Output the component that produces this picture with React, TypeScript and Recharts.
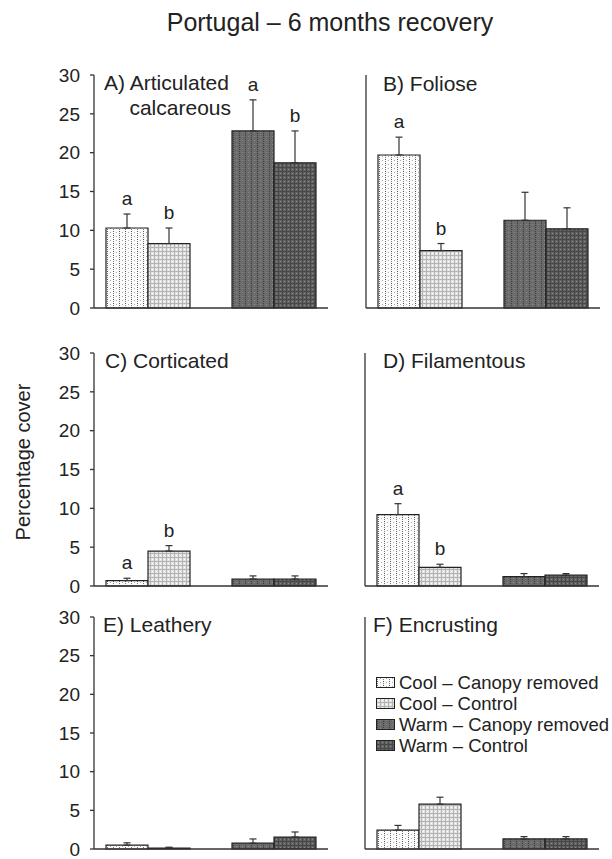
import React from "react";
import { Bar, BarChart, Cell, ErrorBar, LabelList, XAxis, YAxis } from "recharts";

// Means and standard errors, in the order
// [Cool-Canopy removed, Cool-Control, Warm-Canopy removed, Warm-Control]
const temps = ["Cool", "Warm"];
const legendLabels = [
  "Cool – Canopy removed",
  "Cool – Control",
  "Warm – Canopy removed",
  "Warm – Control",
];
const yTicks = [0, 5, 10, 15, 20, 25, 30];

const articulatedMeans = [10.3, 8.3, 22.8, 18.7];
const articulatedErrors = [1.8, 2.0, 4.0, 4.1];
const articulatedLetters = ["a", "b", "a", "b"];

const folioseMeans = [19.7, 7.4, 11.3, 10.2];
const folioseErrors = [2.3, 0.9, 3.6, 2.7];
const folioseLetters = ["a", "b", "", ""];

const corticatedMeans = [0.7, 4.5, 0.9, 0.9];
const corticatedErrors = [0.3, 0.7, 0.4, 0.4];
const corticatedLetters = ["a", "b", "", ""];

const filamentousMeans = [9.2, 2.4, 1.2, 1.4];
const filamentousErrors = [1.4, 0.4, 0.4, 0.2];
const filamentousLetters = ["a", "b", "", ""];

const leatheryMeans = [0.5, 0.13, 0.75, 1.55];
const leatheryErrors = [0.3, 0.1, 0.55, 0.65];
const leatheryLetters = ["", "", "", ""];

const encrustingMeans = [2.45, 5.8, 1.3, 1.3];
const encrustingErrors = [0.6, 0.9, 0.3, 0.3];
const encrustingLetters = ["", "", "", ""];

const FONT = "'Liberation Sans', Arial, Helvetica, sans-serif";
const INK = "#222";
const AXIS = "#333";
const PLOT_W = 234;
const Y_AXIS_W = 60;

const fills = [
  ["url(#coolRemoved)", "url(#coolControl)"],
  ["url(#warmRemoved)", "url(#warmControl)"],
];

function buildRows(means: number[], errors: number[], letters: string[]) {
  return temps.map((temp, i) => ({
    temp,
    removed: means[i * 2],
    control: means[i * 2 + 1],
    removedErr: [0, errors[i * 2]],
    controlErr: [0, errors[i * 2 + 1]],
    removedLetter: letters[i * 2],
    controlLetter: letters[i * 2 + 1],
  }));
}

const panels = [
  { id: "A", means: articulatedMeans, errors: articulatedErrors, letters: articulatedLetters, axisX: 94, plotTop: 75, plotH: 233, labels: true },
  { id: "B", means: folioseMeans, errors: folioseErrors, letters: folioseLetters, axisX: 366, plotTop: 75, plotH: 233, labels: false },
  { id: "C", means: corticatedMeans, errors: corticatedErrors, letters: corticatedLetters, axisX: 94, plotTop: 353, plotH: 233, labels: true },
  { id: "D", means: filamentousMeans, errors: filamentousErrors, letters: filamentousLetters, axisX: 365, plotTop: 353, plotH: 233, labels: false },
  { id: "E", means: leatheryMeans, errors: leatheryErrors, letters: leatheryLetters, axisX: 94, plotTop: 617, plotH: 232, labels: true },
  { id: "F", means: encrustingMeans, errors: encrustingErrors, letters: encrustingLetters, axisX: 365, plotTop: 617, plotH: 232, labels: false },
];

const panelTitles = [
  { lines: ["A) Articulated"], x: 104, y: 90 },
  { lines: ["calcareous"], x: 231, y: 115, anchor: "end" },
  { lines: ["B) Foliose"], x: 383, y: 91 },
  { lines: ["C) Corticated"], x: 105, y: 368 },
  { lines: ["D) Filamentous"], x: 383, y: 368 },
  { lines: ["E) Leathery"], x: 103, y: 632 },
  { lines: ["F) Encrusting"], x: 373, y: 632 },
];

function Patterns() {
  return (
    <svg width={0} height={0} style={{ position: "absolute" }}>
      <defs>
        <pattern id="coolRemoved" width={6} height={4} patternUnits="userSpaceOnUse">
          <rect width={6} height={4} fill="#fbfbfb" />
          <rect x={1} y={0} width={1} height={1} fill="#555" />
          <rect x={1} y={2} width={1} height={1} fill="#777" />
          <rect x={4} y={1} width={1} height={1} fill="#aaa" />
        </pattern>
        <pattern id="coolControl" width={4} height={4} patternUnits="userSpaceOnUse">
          <rect width={4} height={4} fill="#e4e4e4" />
          <rect x={0} y={0} width={4} height={1} fill="#b4b4b4" />
          <rect x={0} y={0} width={1} height={4} fill="#b4b4b4" />
          <rect x={2} y={2} width={1} height={1} fill="#fff" />
        </pattern>
        <pattern id="warmRemoved" width={6} height={4} patternUnits="userSpaceOnUse">
          <rect width={6} height={4} fill="#6b6b6b" />
          <rect x={1} y={0} width={1} height={1} fill="#3c3c3c" />
          <rect x={1} y={2} width={1} height={1} fill="#3c3c3c" />
          <rect x={4} y={1} width={1} height={1} fill="#8a8a8a" />
        </pattern>
        <pattern id="warmControl" width={4} height={4} patternUnits="userSpaceOnUse">
          <rect width={4} height={4} fill="#636363" />
          <rect x={0} y={0} width={4} height={1} fill="#484848" />
          <rect x={0} y={0} width={1} height={4} fill="#484848" />
          <rect x={2} y={2} width={1} height={1} fill="#888" />
        </pattern>
      </defs>
    </svg>
  );
}

function letterContent(rows: any[], errKey: string, pxPerUnit: number) {
  return (props: any) => {
    const { x, y, width, value, index } = props;
    if (!value) return null;
    const se = rows[index][errKey][1];
    const errTop = Number(y) - se * pxPerUnit;
    return (
      <text x={Number(x) + Number(width) / 2} y={errTop - 9} textAnchor="middle" fontSize={19} fill={INK} fontFamily={FONT}>
        {value}
      </text>
    );
  };
}

function Panel({ cfg }: { cfg: (typeof panels)[number] }) {
  const rows = buildRows(cfg.means, cfg.errors, cfg.letters);
  const pxPerUnit = cfg.plotH / 30;
  const top = 20;
  return (
    <div style={{ position: "absolute", left: cfg.axisX - Y_AXIS_W, top: cfg.plotTop - top }}>
      <BarChart
        width={Y_AXIS_W + PLOT_W + 10}
        height={cfg.plotH + top + 10}
        data={rows}
        margin={{ top, right: 10, bottom: 0, left: 0 }}
        barCategoryGap={21}
        barGap={0}
      >
        <XAxis
          dataKey="temp"
          tick={false}
          tickLine={false}
          height={10}
          padding={{ left: -9, right: -9 }}
          axisLine={{ stroke: AXIS, strokeWidth: 1.5 }}
        />
        <YAxis
          domain={[0, 30]}
          ticks={yTicks}
          interval={0}
          width={Y_AXIS_W}
          tickSize={4}
          tickMargin={10}
          axisLine={{ stroke: AXIS, strokeWidth: 1.3 }}
          tickLine={{ stroke: AXIS, strokeWidth: 1.3 }}
          tick={cfg.labels ? { fontSize: 19, fill: INK, fontFamily: FONT } : false}
        />
        <Bar dataKey="removed" stroke="#222" strokeWidth={1.2} isAnimationActive={false}>
          {rows.map((r, i) => (
            <Cell key={r.temp} fill={fills[i][0]} />
          ))}
          <ErrorBar dataKey="removedErr" width={3.5} stroke={AXIS} strokeWidth={1.2} direction="y" />
          <LabelList dataKey="removedLetter" content={letterContent(rows, "removedErr", pxPerUnit)} />
        </Bar>
        <Bar dataKey="control" stroke="#222" strokeWidth={1.2} isAnimationActive={false}>
          {rows.map((r, i) => (
            <Cell key={r.temp} fill={fills[i][1]} />
          ))}
          <ErrorBar dataKey="controlErr" width={3.5} stroke={AXIS} strokeWidth={1.2} direction="y" />
          <LabelList dataKey="controlLetter" content={letterContent(rows, "controlErr", pxPerUnit)} />
        </Bar>
      </BarChart>
    </div>
  );
}

function LegendBox() {
  const swatches = ["url(#coolRemoved)", "url(#coolControl)", "url(#warmRemoved)", "url(#warmControl)"];
  return (
    <div style={{ position: "absolute", left: 376, top: 673, fontFamily: FONT, fontSize: 18.5, color: INK }}>
      {legendLabels.map((label, i) => (
        <div key={label} style={{ display: "flex", alignItems: "center", height: 20.8, whiteSpace: "nowrap" }}>
          <svg width={19} height={12} style={{ marginRight: 4 }}>
            <rect x={0.5} y={0.5} width={18} height={10} fill={swatches[i]} stroke="#222" strokeWidth={1} />
          </svg>
          <span>{label}</span>
        </div>
      ))}
    </div>
  );
}

export default function App() {
  return (
    <div style={{ position: "absolute", left: 0, top: 0, width: 612, height: 859, background: "#fff", fontFamily: FONT }}>
      <Patterns />
      {panels.map((p) => (
        <Panel key={p.id} cfg={p} />
      ))}
      <svg width={612} height={859} style={{ position: "absolute", left: 0, top: 0, pointerEvents: "none" }}>
        <text x={330} y={31} textAnchor="middle" fontSize={25} fill={INK} fontFamily={FONT}>
          Portugal – 6 months recovery
        </text>
        <text
          x={0}
          y={0}
          transform="translate(30 462) rotate(-90)"
          textAnchor="middle"
          fontSize={20}
          fill={INK}
          fontFamily={FONT}
        >
          Percentage cover
        </text>
        {panelTitles.map((t) => (
          <text key={t.lines[0]} x={t.x} y={t.y} textAnchor={t.anchor ?? "start"} fontSize={21} fill={INK} fontFamily={FONT}>
            {t.lines[0]}
          </text>
        ))}
      </svg>
      <LegendBox />
    </div>
  );
}
